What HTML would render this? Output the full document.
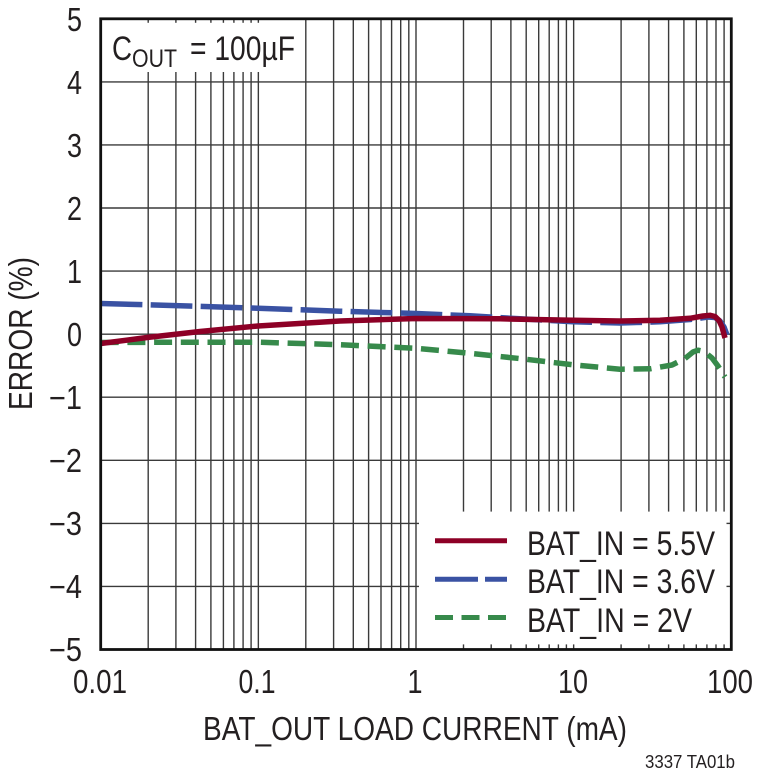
<!DOCTYPE html>
<html>
<head>
<meta charset="utf-8">
<style>
html,body{margin:0;padding:0;background:#fff;}
svg{display:block;}
text{font-family:"Liberation Sans",Arial,sans-serif;fill:#231f20;}
</style>
</head>
<body>
<svg width="760" height="774" viewBox="0 0 760 774" xmlns="http://www.w3.org/2000/svg">
<rect width="760" height="774" fill="#fff"/>
<!-- grid -->
<g stroke="#3a3a3a" stroke-width="1.4" fill="none">
<!-- horizontal -->
<line x1="100.7" y1="81.9" x2="731.3" y2="81.9"/>
<line x1="100.7" y1="144.9" x2="731.3" y2="144.9"/>
<line x1="100.7" y1="208.0" x2="731.3" y2="208.0"/>
<line x1="100.7" y1="271.1" x2="731.3" y2="271.1"/>
<line x1="100.7" y1="334.2" x2="731.3" y2="334.2"/>
<line x1="100.7" y1="397.2" x2="731.3" y2="397.2"/>
<line x1="100.7" y1="460.3" x2="731.3" y2="460.3"/>
<line x1="100.7" y1="523.4" x2="731.3" y2="523.4"/>
<line x1="100.7" y1="586.4" x2="731.3" y2="586.4"/>
<!-- vertical decade 0.01-0.1 -->
<line x1="148.2" y1="18.8" x2="148.2" y2="649.5"/>
<line x1="175.9" y1="18.8" x2="175.9" y2="649.5"/>
<line x1="195.6" y1="18.8" x2="195.6" y2="649.5"/>
<line x1="210.9" y1="18.8" x2="210.9" y2="649.5"/>
<line x1="223.4" y1="18.8" x2="223.4" y2="649.5"/>
<line x1="233.9" y1="18.8" x2="233.9" y2="649.5"/>
<line x1="243.1" y1="18.8" x2="243.1" y2="649.5"/>
<line x1="251.1" y1="18.8" x2="251.1" y2="649.5"/>
<line x1="258.35" y1="18.8" x2="258.35" y2="649.5"/>
<!-- 0.1-1 -->
<line x1="305.8" y1="18.8" x2="305.8" y2="649.5"/>
<line x1="333.6" y1="18.8" x2="333.6" y2="649.5"/>
<line x1="353.3" y1="18.8" x2="353.3" y2="649.5"/>
<line x1="368.6" y1="18.8" x2="368.6" y2="649.5"/>
<line x1="381.0" y1="18.8" x2="381.0" y2="649.5"/>
<line x1="391.6" y1="18.8" x2="391.6" y2="649.5"/>
<line x1="400.7" y1="18.8" x2="400.7" y2="649.5"/>
<line x1="408.8" y1="18.8" x2="408.8" y2="649.5"/>
<line x1="416.0" y1="18.8" x2="416.0" y2="649.5"/>
<!-- 1-10 -->
<line x1="463.5" y1="18.8" x2="463.5" y2="649.5"/>
<line x1="491.2" y1="18.8" x2="491.2" y2="649.5"/>
<line x1="510.9" y1="18.8" x2="510.9" y2="649.5"/>
<line x1="526.2" y1="18.8" x2="526.2" y2="649.5"/>
<line x1="538.7" y1="18.8" x2="538.7" y2="649.5"/>
<line x1="549.2" y1="18.8" x2="549.2" y2="649.5"/>
<line x1="558.4" y1="18.8" x2="558.4" y2="649.5"/>
<line x1="566.4" y1="18.8" x2="566.4" y2="649.5"/>
<line x1="573.65" y1="18.8" x2="573.65" y2="649.5"/>
<!-- 10-100 -->
<line x1="621.1" y1="18.8" x2="621.1" y2="649.5"/>
<line x1="648.9" y1="18.8" x2="648.9" y2="649.5"/>
<line x1="668.6" y1="18.8" x2="668.6" y2="649.5"/>
<line x1="683.9" y1="18.8" x2="683.9" y2="649.5"/>
<line x1="696.3" y1="18.8" x2="696.3" y2="649.5"/>
<line x1="706.9" y1="18.8" x2="706.9" y2="649.5"/>
<line x1="716.0" y1="18.8" x2="716.0" y2="649.5"/>
<line x1="724.1" y1="18.8" x2="724.1" y2="649.5"/>
</g>

<!-- C_OUT box -->
<rect x="102.3" y="22.8" width="198" height="49.2" fill="#fff"/>
<!-- Legend box -->
<rect x="419" y="511.6" width="311" height="136.4" fill="#fff"/>
<!-- ticks inside legend box -->
<g stroke="#3a3a3a" stroke-width="1.4">
<line x1="463.5" y1="644.4" x2="463.5" y2="649.5"/>
<line x1="491.2" y1="644.4" x2="491.2" y2="649.5"/>
<line x1="510.9" y1="644.4" x2="510.9" y2="649.5"/>
<line x1="526.2" y1="644.4" x2="526.2" y2="649.5"/>
<line x1="538.7" y1="644.4" x2="538.7" y2="649.5"/>
<line x1="549.2" y1="644.4" x2="549.2" y2="649.5"/>
<line x1="558.4" y1="644.4" x2="558.4" y2="649.5"/>
<line x1="566.4" y1="644.4" x2="566.4" y2="649.5"/>
<line x1="573.65" y1="644.4" x2="573.65" y2="649.5"/>
<line x1="621.1" y1="644.4" x2="621.1" y2="649.5"/>
<line x1="648.9" y1="644.4" x2="648.9" y2="649.5"/>
<line x1="668.6" y1="644.4" x2="668.6" y2="649.5"/>
<line x1="683.9" y1="644.4" x2="683.9" y2="649.5"/>
<line x1="696.3" y1="644.4" x2="696.3" y2="649.5"/>
<line x1="706.9" y1="644.4" x2="706.9" y2="649.5"/>
<line x1="716.0" y1="644.4" x2="716.0" y2="649.5"/>
<line x1="724.1" y1="644.4" x2="724.1" y2="649.5"/>
<line x1="726.5" y1="523.4" x2="731.3" y2="523.4"/>
<line x1="726.5" y1="586.4" x2="731.3" y2="586.4"/>
</g>

<!-- curves -->
<g fill="none" stroke-linejoin="round" stroke-width="5.5">
<polyline stroke="#378a4b" stroke-dasharray="18 8.7" points="100.7,342.5 180,342.2 258,342.2 340,344.7 416,348.3 470,353.3 520,358.6 573,364.8 620,369.2 650,368.8 672,365 685,358.5 693,352 698,350.2 704,351.5 712,358 718,366 725,377"/>
<polyline stroke="#3a52a3" stroke-dasharray="41.7 8.3" points="100.7,303.5 180,305.7 258,308.2 340,311.2 416,313.5 470,315.8 520,318.8 573,321.8 620,323 660,321.8 690,319.5 708,317 715,317.5 720,321 724,327 727,335"/>
<polyline stroke="#8d0026" points="100.7,343.5 147,337.5 200,331.5 258,326 340,321 416,318.5 500,318.8 573,320.3 620,321 660,320.3 690,318.3 703,316 710,315.3 715,316.5 719,320.5 722,327 725,338"/>
</g>

<!-- frame -->
<rect x="100.7" y="18.8" width="630.6" height="630.7" fill="none" stroke="#111" stroke-width="2.8"/>

<!-- legend -->
<g stroke-width="5">
<line x1="435" y1="540.7" x2="507" y2="540.7" stroke="#8d0026"/>
<line x1="435" y1="579.2" x2="507" y2="579.2" stroke="#3a52a3" stroke-dasharray="43 7"/>
<line x1="435" y1="617.5" x2="507" y2="617.5" stroke="#378a4b" stroke-dasharray="18 8.5"/>
</g>
<g font-size="34">
<text x="527" y="555" textLength="188" lengthAdjust="spacingAndGlyphs">BAT_IN = 5.5V</text>
<text x="527" y="593" textLength="188" lengthAdjust="spacingAndGlyphs">BAT_IN = 3.6V</text>
<text x="527" y="632" textLength="165" lengthAdjust="spacingAndGlyphs">BAT_IN = 2V</text>
</g>

<!-- C_OUT label -->
<text x="112" y="60" font-size="34" textLength="20" lengthAdjust="spacingAndGlyphs">C</text>
<text x="132" y="67" font-size="25" textLength="45" lengthAdjust="spacingAndGlyphs">OUT</text>
<text x="190" y="60" font-size="34" textLength="105" lengthAdjust="spacingAndGlyphs">= 100µF</text>

<!-- y tick labels -->
<g font-size="33" text-anchor="end">
<text x="82" y="31" textLength="15" lengthAdjust="spacingAndGlyphs">5</text>
<text x="82" y="94" textLength="15" lengthAdjust="spacingAndGlyphs">4</text>
<text x="82" y="157" textLength="15" lengthAdjust="spacingAndGlyphs">3</text>
<text x="82" y="220" textLength="15" lengthAdjust="spacingAndGlyphs">2</text>
<text x="82" y="283" textLength="15" lengthAdjust="spacingAndGlyphs">1</text>
<text x="82" y="346" textLength="15" lengthAdjust="spacingAndGlyphs">0</text>
<text x="82" y="409" textLength="33" lengthAdjust="spacingAndGlyphs">−1</text>
<text x="82" y="472" textLength="33" lengthAdjust="spacingAndGlyphs">−2</text>
<text x="82" y="535" textLength="33" lengthAdjust="spacingAndGlyphs">−3</text>
<text x="82" y="598" textLength="33" lengthAdjust="spacingAndGlyphs">−4</text>
<text x="82" y="661" textLength="33" lengthAdjust="spacingAndGlyphs">−5</text>
</g>

<!-- x tick labels -->
<g font-size="33" text-anchor="middle">
<text x="100" y="693" textLength="54" lengthAdjust="spacingAndGlyphs">0.01</text>
<text x="257" y="693" textLength="37" lengthAdjust="spacingAndGlyphs">0.1</text>
<text x="415" y="693" textLength="15" lengthAdjust="spacingAndGlyphs">1</text>
<text x="573" y="693" textLength="30" lengthAdjust="spacingAndGlyphs">10</text>
<text x="730" y="693" textLength="46" lengthAdjust="spacingAndGlyphs">100</text>
</g>

<!-- axis titles -->
<text x="203" y="740" font-size="33" textLength="424" lengthAdjust="spacingAndGlyphs">BAT_OUT LOAD CURRENT (mA)</text>
<text transform="translate(32,333.5) rotate(-90)" x="0" y="0" font-size="33" text-anchor="middle" textLength="153" lengthAdjust="spacingAndGlyphs">ERROR (%)</text>

<!-- footnote -->
<text x="645" y="768" font-size="18" textLength="90" lengthAdjust="spacingAndGlyphs">3337 TA01b</text>
</svg>
</body>
</html>
